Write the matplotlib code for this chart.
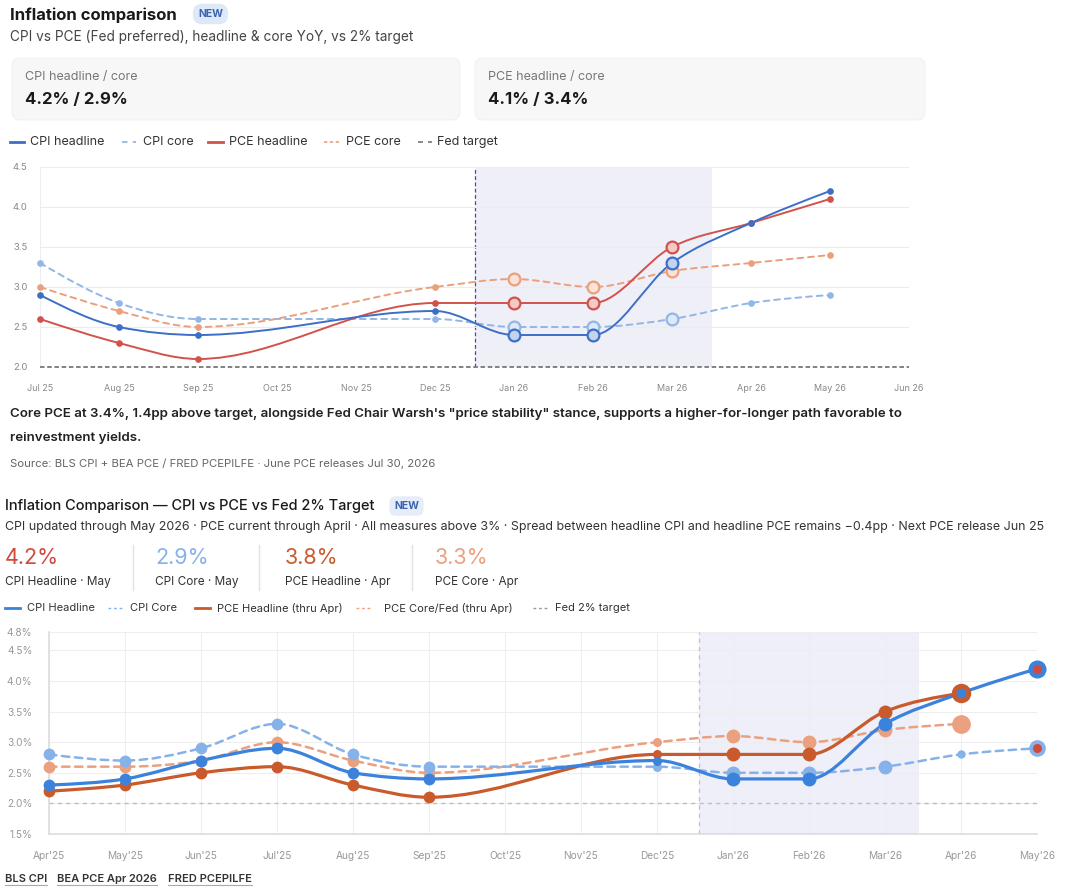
import numpy as np
import matplotlib
matplotlib.use("Agg")
import matplotlib.pyplot as plt
import matplotlib.transforms as mtransforms
from matplotlib.path import Path
from matplotlib.patches import PathPatch, FancyBboxPatch
from matplotlib.lines import Line2D

plt.rcParams['font.family'] = ['Inter', 'DejaVu Sans']

# ---------------- data: top widget (Jul 25 .. Jun 26) ----------------
top_ticks = ['Jul 25', 'Aug 25', 'Sep 25', 'Oct 25', 'Nov 25', 'Dec 25',
             'Jan 26', 'Feb 26', 'Mar 26', 'Apr 26', 'May 26', 'Jun 26']
top_idx = [0, 1, 2, 5, 6, 7, 8, 9, 10]          # months that have a reading
top_cpi_head = [2.9, 2.5, 2.4, 2.7, 2.4, 2.4, 3.3, 3.8, 4.2]
top_cpi_core = [3.3, 2.8, 2.6, 2.6, 2.5, 2.5, 2.6, 2.8, 2.9]
top_pce_head = [2.6, 2.3, 2.1, 2.8, 2.8, 2.8, 3.5, 3.8, 4.1]
top_pce_core = [3.0, 2.7, 2.5, 3.0, 3.1, 3.0, 3.2, 3.3, 3.4]
top_focus = [6, 7, 8]                           # Jan..Mar 26
fed_target = 2.0

# ---------------- data: bottom widget (Apr'25 .. May'26) ----------------
bot_ticks = ["Apr'25", "May'25", "Jun'25", "Jul'25", "Aug'25", "Sep'25", "Oct'25",
             "Nov'25", "Dec'25", "Jan'26", "Feb'26", "Mar'26", "Apr'26", "May'26"]
bot_idx_cpi = [0, 1, 2, 3, 4, 5, 8, 9, 10, 11, 12, 13]
bot_cpi_head = [2.3, 2.4, 2.7, 2.9, 2.5, 2.4, 2.7, 2.4, 2.4, 3.3, 3.8, 4.2]
bot_cpi_core = [2.8, 2.7, 2.9, 3.3, 2.8, 2.6, 2.6, 2.5, 2.5, 2.6, 2.8, 2.9]
bot_idx_pce = [0, 1, 2, 3, 4, 5, 8, 9, 10, 11, 12]
bot_pce_head = [2.2, 2.3, 2.5, 2.6, 2.3, 2.1, 2.8, 2.8, 2.8, 3.5, 3.8]
bot_pce_core = [2.6, 2.6, 2.7, 3.0, 2.7, 2.5, 3.0, 3.1, 3.0, 3.2, 3.3]
kpi_values = ['4.2%', '2.9%', '3.8%', '3.3%']
kpi_labels = ['CPI Headline · May', 'CPI Core · May', 'PCE Headline · Apr', 'PCE Core · Apr']

W, H = 1071, 894
fig = plt.figure(figsize=(W / 100, H / 100), dpi=100)
fig.patch.set_facecolor('white')
px = mtransforms.Affine2D().scale(1, -1).translate(0, H)   # pixel coords, y from top


def txt(x, y, s, **kw):
    kw.setdefault('va', 'center')
    return fig.text(x, y, s, transform=px, **kw)


def legend_line(x0, x1, y, color, ls='-', lw=2):
    fig.add_artist(Line2D([x0, x1], [y, y], transform=px, color=color, ls=ls, lw=lw))


def axes_px(left, top, right, bottom):
    return fig.add_axes([left / W, 1 - bottom / H, (right - left) / W, (bottom - top) / H])


def mono_path(xs, ys):
    # monotone cubic curve through the points, as bezier segments
    xs = np.asarray(xs, float)
    ys = np.asarray(ys, float)
    n = len(xs)
    h = np.diff(xs)
    d = np.diff(ys) / h
    m = np.zeros(n)
    for i in range(1, n - 1):
        s0, s1 = d[i - 1], d[i]
        p = (s0 * h[i] + s1 * h[i - 1]) / (h[i - 1] + h[i])
        m[i] = (np.sign(s0) + np.sign(s1)) * min(abs(s0), abs(s1), 0.5 * abs(p))
    m[0] = (3 * d[0] - m[1]) / 2
    m[-1] = (3 * d[-1] - m[-2]) / 2
    verts = [(xs[0], ys[0])]
    codes = [Path.MOVETO]
    for i in range(n - 1):
        dx = h[i] / 3
        verts += [(xs[i] + dx, ys[i] + dx * m[i]), (xs[i + 1] - dx, ys[i + 1] - dx * m[i + 1]),
                  (xs[i + 1], ys[i + 1])]
        codes += [Path.CURVE4] * 3
    return Path(verts, codes)


def curve(ax, xs, ys, color, lw, ls='-', z=3):
    ax.add_patch(PathPatch(mono_path(xs, ys), fill=False, edgecolor=color, lw=lw, ls=ls,
                           capstyle='round', zorder=z, clip_on=False))


def light(c, a):
    c = np.array(matplotlib.colors.to_rgb(c))
    return tuple(1 - a * (1 - c))


# =================== TOP WIDGET ===================
txt(10, 15, 'Inflation comparison', fontsize=12, fontweight='bold', color='#1a1a1a')
txt(198, 14, 'NEW', fontsize=7.5, fontweight='bold', color='#3a64b0',
    bbox=dict(boxstyle='round,pad=0.5,rounding_size=0.9', fc='#dfe8f6', ec='none'))
txt(10, 37, 'CPI vs PCE (Fed preferred), headline & core YoY, vs 2% target', fontsize=9.8, color='#444444')

for x0, x1, lab, val in [(12, 460, 'CPI headline / core', '4.2% / 2.9%'),
                         (475, 925, 'PCE headline / core', '4.1% / 3.4%')]:
    fig.add_artist(FancyBboxPatch((x0, 58), x1 - x0, 62, boxstyle='round,pad=0,rounding_size=8',
                                  transform=px, fc='#f7f7f7', ec='#efefef', lw=0.6))
    txt(x0 + 13, 77, lab, fontsize=9, color='#777777')
    txt(x0 + 13, 99, val, fontsize=12, fontweight='bold', color='#1a1a1a')

c_ch, c_cc, c_ph, c_pc, c_fed = '#3c6fc6', '#92b6e6', '#d2524b', '#eaa07c', '#777777'
legend_line(10, 24, 142, c_ch)
txt(30, 142, 'CPI headline', fontsize=9, color='#333333')
legend_line(122, 136, 142, c_cc, ls=(0, (3, 3)), lw=1.3)
txt(143, 142, 'CPI core', fontsize=9, color='#333333')
legend_line(208, 223, 142, c_ph)
txt(229, 142, 'PCE headline', fontsize=9, color='#333333')
legend_line(324, 339, 142, c_pc, ls=(0, (2, 1.5)), lw=1.2)
txt(346, 142, 'PCE core', fontsize=9, color='#333333')
legend_line(418, 432, 142, c_fed, ls=(0, (3, 3)), lw=1.2)
txt(437, 142, 'Fed target', fontsize=9, color='#333333')

ax1 = axes_px(40, 167, 909, 367)
ax1.set_xlim(0, 11)
ax1.set_ylim(2.0, 4.5)
ax1.set_xticks(range(12))
ax1.set_xticklabels(top_ticks, fontsize=6.5, color='#888888')
ax1.set_yticks([2.0, 2.5, 3.0, 3.5, 4.0, 4.5])
ax1.set_yticklabels(['2.0', '2.5', '3.0', '3.5', '4.0', '4.5'], fontsize=6.8, color='#888888')
ax1.tick_params(length=0, pad=9)
ax1.tick_params(axis='x', pad=12)
for s in ax1.spines.values():
    s.set_visible(False)
ax1.grid(axis='y', color='#ececec', lw=0.8)
ax1.axvline(0, color='#eeeeee', lw=0.8, zorder=0)
ax1.axvspan(5.5, 8.5, color='#efeff8', zorder=0, lw=0)
ax1.axvline(5.5, color='#4b4b9c', lw=0.9, ls=(0, (3, 2)), zorder=1)
ax1.axhline(fed_target, color=c_fed, lw=1.3, ls=(0, (2.5, 1.5)), zorder=2, clip_on=False)

for ys, c, ls in [(top_cpi_core, c_cc, (0, (3, 2.5))), (top_pce_core, c_pc, (0, (3, 2.5))),
                  (top_pce_head, c_ph, '-'), (top_cpi_head, c_ch, '-')]:
    curve(ax1, top_idx, ys, c, 1.4, ls)
    for xi, yv in zip(top_idx, ys):
        if xi in top_focus:
            ax1.plot(xi, yv, 'o', ms=8.5, mfc=light(c, 0.3), mec=c, mew=1.6, zorder=5, clip_on=False)
        else:
            ax1.plot(xi, yv, 'o', ms=3.8, color=c, zorder=5, clip_on=False)

txt(10, 414, 'Core PCE at 3.4%, 1.4pp above target, alongside Fed Chair Warsh\'s "price stability" stance, '
    'supports a higher-for-longer path favorable to', fontsize=9.6, fontweight='semibold', color='#222222')
txt(10, 438, 'reinvestment yields.', fontsize=9.6, fontweight='semibold', color='#222222')
txt(10, 464, 'Source: BLS CPI + BEA PCE / FRED PCEPILFE · June PCE releases Jul 30, 2026', fontsize=8.2,
    color='#666666')

# =================== BOTTOM WIDGET ===================
txt(5, 506, 'Inflation Comparison — CPI vs PCE vs Fed 2% Target', fontsize=10.5, fontweight='medium',
    color='#1a1a1a')
txt(394, 506, 'NEW', fontsize=7.5, fontweight='bold', color='#3a64b0',
    bbox=dict(boxstyle='round,pad=0.45,rounding_size=0.6', fc='#e6edf8', ec='none'))
txt(5, 527, 'CPI updated through May 2026 · PCE current through April · All measures above 3% · '
    'Spread between headline CPI and headline PCE remains −0.4pp · Next PCE release Jun 25',
    fontsize=8.95, color='#333333')

b_ch, b_cc, b_ph, b_pc, b_fed = '#3b82dc', '#86b2ea', '#c95a2b', '#eba07f', '#bdbdbd'
kpi_colors = ['#d14a3e', b_cc, b_ph, b_pc]
for xk, v, lab, c in zip([5, 155, 285, 435], kpi_values, kpi_labels, kpi_colors):
    txt(xk, 558, v, fontsize=15.5, color=c)
    txt(xk, 582, lab, fontsize=8.5, color='#333333')
for xs in [133, 259, 412]:
    fig.add_artist(Line2D([xs, xs], [545, 590], transform=px, color='#e2e2e2', lw=1))

legend_line(5, 20, 608, b_ch)
txt(27, 608, 'CPI Headline', fontsize=8, color='#333333')
legend_line(108, 122, 608, b_cc, ls=(0, (2, 2)), lw=1)
txt(130, 608, 'CPI Core', fontsize=8, color='#333333')
legend_line(195, 210, 608, b_ph)
txt(217, 608, 'PCE Headline (thru Apr)', fontsize=8, color='#333333')
legend_line(356, 371, 608, b_pc, ls=(0, (2, 2)), lw=1)
txt(384, 608, 'PCE Core/Fed (thru Apr)', fontsize=8, color='#333333')
legend_line(533, 547, 608, '#999999', ls=(0, (2, 2)), lw=1)
txt(555, 608, 'Fed 2% target', fontsize=8, color='#333333')

ax2 = axes_px(49, 632, 1037, 834)
ax2.set_xlim(0, 13)
ax2.set_ylim(1.5, 4.8)
ax2.set_xticks(range(14))
ax2.set_xticklabels(bot_ticks, fontsize=7.3, color='#999999')
yt = [1.5, 2.0, 2.5, 3.0, 3.5, 4.0, 4.5, 4.8]
ax2.set_yticks(yt)
ax2.set_yticklabels(['%.1f%%' % v for v in yt], fontsize=7.3, color='#999999')
ax2.tick_params(length=0, pad=12)
ax2.tick_params(axis='x', pad=12)
for k in ['top', 'right']:
    ax2.spines[k].set_visible(False)
for k in ['left', 'bottom']:
    ax2.spines[k].set_color('#dddddd')
    ax2.spines[k].set_linewidth(1.2)
ax2.grid(color='#eeeeee', lw=0.8)
ax2.set_axisbelow(True)
ax2.axvspan(8.55, 11.45, color='#efeff9', zorder=0.5, lw=0)
ax2.axvline(8.55, color='#c4c0d4', lw=1, ls=(0, (3, 3)), zorder=1)
ax2.axhline(fed_target, color=b_fed, lw=1, ls=(0, (3, 3)), zorder=1)

# marker sizes by month (style only)
ms_bot = {8: 6.5, 9: 10, 10: 10, 11: 10}
curve(ax2, bot_idx_pce, bot_pce_core, b_pc, 1.8, (0, (3, 2.2)))
curve(ax2, bot_idx_cpi, bot_cpi_core, b_cc, 1.8, (0, (3, 2.2)))
curve(ax2, bot_idx_pce, bot_pce_head, b_ph, 2.3)
curve(ax2, bot_idx_cpi, bot_cpi_head, b_ch, 2.3)

for xs_, ys_, c, last in [(bot_idx_pce, bot_pce_core, b_pc, 13.5), (bot_idx_cpi, bot_cpi_core, b_cc, 6),
                          (bot_idx_pce, bot_pce_head, b_ph, 14), (bot_idx_cpi, bot_cpi_head, b_ch, 7)]:
    for xi, yv in zip(xs_, ys_):
        if xi == 12:
            s = last
        elif xi == 13:
            s = 13 if c == b_ch else 12
        else:
            s = ms_bot.get(xi, 8.5)
        ax2.plot(xi, yv, 'o', ms=s, color=c, mec='none', zorder=6, clip_on=False)
# latest CPI readings get a red centre
ax2.plot([13], [bot_cpi_head[-1]], 'o', ms=6.5, color='#d14a3e', mec='none', zorder=7, clip_on=False)
ax2.plot([13], [bot_cpi_core[-1]], 'o', ms=6.5, color='#d14a3e', mec='none', zorder=7, clip_on=False)

for xl, s in [(5, 'BLS CPI'), (57, 'BEA PCE Apr 2026'), (168, 'FRED PCEPILFE')]:
    txt(xl, 879, s, fontsize=8, fontweight='semibold', color='#333333')
fig.canvas.draw()
r = fig.canvas.get_renderer()
for t in fig.texts[-3:]:
    bb = t.get_window_extent(r)
    fig.add_artist(Line2D([bb.x0, bb.x1], [bb.y0 - 1, bb.y0 - 1], color='#aaaaaa', lw=0.8,
                          transform=mtransforms.IdentityTransform()))

fig.savefig('out.png', dpi=100, facecolor='white')
